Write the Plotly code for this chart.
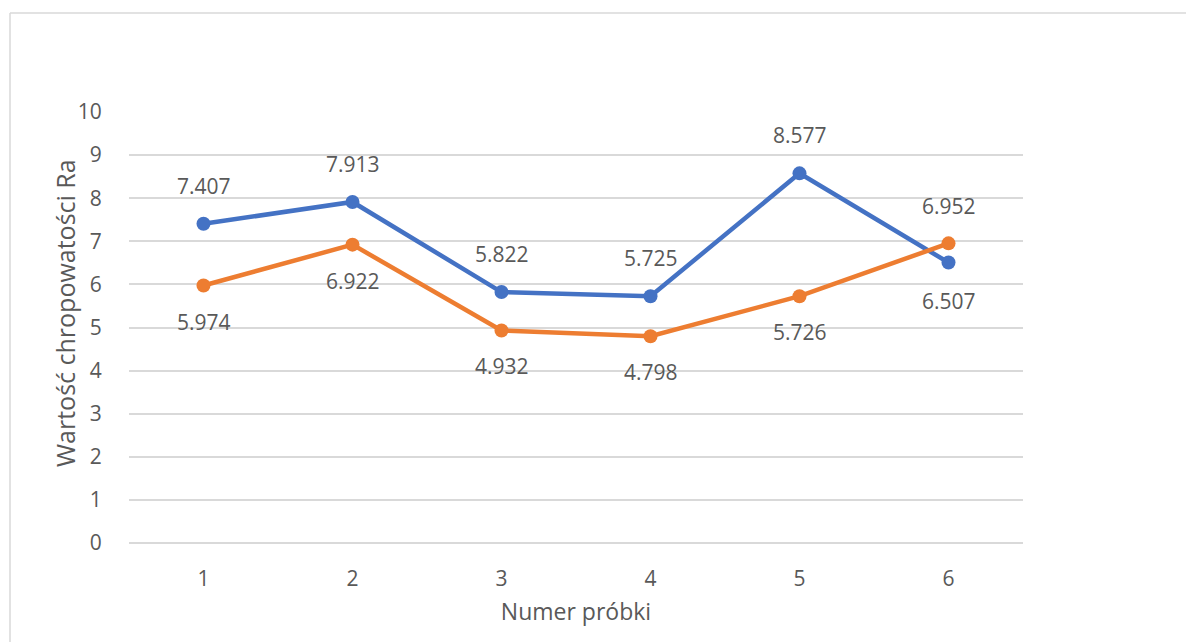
import plotly.graph_objects as go

# Sample numbers and measured roughness values
samples = [1, 2, 3, 4, 5, 6]
series_a = [7.407, 7.913, 5.822, 5.725, 8.577, 6.507]
series_b = [5.974, 6.922, 4.932, 4.798, 5.726, 6.952]
y_ticks = [0, 1, 2, 3, 4, 5, 6, 7, 8, 9, 10]

BLUE = "#4472C4"
ORANGE = "#ED7D31"
GRID = "#D9D9D9"
TEXT = "#595959"
FONT = "Open Sans"
LABEL_SIZE = 21
TICK_SIZE = 21

W, H = 1186, 642
ML, MR, MT, MB = 129, 163, 112, 99
PW, PH = W - ML - MR, H - MT - MB

fig = go.Figure()
for vals, col in [(series_a, BLUE), (series_b, ORANGE)]:
    fig.add_trace(go.Scatter(
        x=samples, y=vals, mode="lines+markers",
        line=dict(color=col, width=4.5),
        marker=dict(color=col, size=14),
        showlegend=False, hoverinfo="skip",
    ))

# Data labels: place above/below depending on which series is on top
annotations = []
for i, x in enumerate(samples):
    a, b = series_a[i], series_b[i]
    a_up = a >= b
    annotations.append(dict(x=x, y=a, text=f"{a:.3f}", showarrow=False,
                            yshift=38 if a_up else -38,
                            font=dict(family=FONT, size=LABEL_SIZE, color=TEXT)))
    annotations.append(dict(x=x, y=b, text=f"{b:.3f}", showarrow=False,
                            yshift=-36 if a_up else 37,
                            font=dict(family=FONT, size=LABEL_SIZE, color=TEXT)))

# Vertical axis title, placed as a rotated annotation
annotations.append(dict(
    xref="paper", yref="paper", x=(65 - ML) / PW, y=(H - MB - 313) / PH,
    xanchor="center", yanchor="middle", textangle=-90, showarrow=False,
    text="Wartość chropowatości Ra",
    font=dict(family=FONT, size=25, color=TEXT),
))

# Outer chart frame (left and top edges)
fx = (10 - ML) / PW
fy_top = (H - MB - 13) / PH
fy_bot = (H - MB - H - 5) / PH
shapes = [
    dict(type="line", xref="paper", yref="paper", x0=fx, x1=(W - ML + 5) / PW,
         y0=fy_top, y1=fy_top, line=dict(color=GRID, width=1.5)),
    dict(type="line", xref="paper", yref="paper", x0=fx, x1=fx,
         y0=fy_bot, y1=fy_top, line=dict(color=GRID, width=1.5)),
]

fig.update_layout(
    width=W, height=H,
    margin=dict(l=ML, r=MR, t=MT, b=MB),
    paper_bgcolor="white", plot_bgcolor="white",
    font=dict(family=FONT, size=TICK_SIZE, color=TEXT),
    annotations=annotations,
    shapes=shapes,
    xaxis=dict(
        range=[0.5, 6.5], tickvals=samples, ticktext=[str(s) for s in samples],
        showgrid=False, zeroline=False, showline=False,
        ticks="outside", ticklen=17, tickcolor="rgba(0,0,0,0)",
        tickfont=dict(family=FONT, size=TICK_SIZE, color=TEXT),
        title=dict(text="Numer próbki", standoff=12,
                   font=dict(family=FONT, size=23, color=TEXT)),
        fixedrange=True,
    ),
    yaxis=dict(
        range=[0, 10], tickvals=y_ticks,
        showgrid=True, gridcolor=GRID, gridwidth=1.5,
        zeroline=True, zerolinecolor=GRID, zerolinewidth=1.5,
        showline=False,
        ticks="outside", ticklen=22, tickcolor="rgba(0,0,0,0)",
        tickfont=dict(family=FONT, size=TICK_SIZE, color=TEXT),
        fixedrange=True,
    ),
)

fig.write_html("out.html")
